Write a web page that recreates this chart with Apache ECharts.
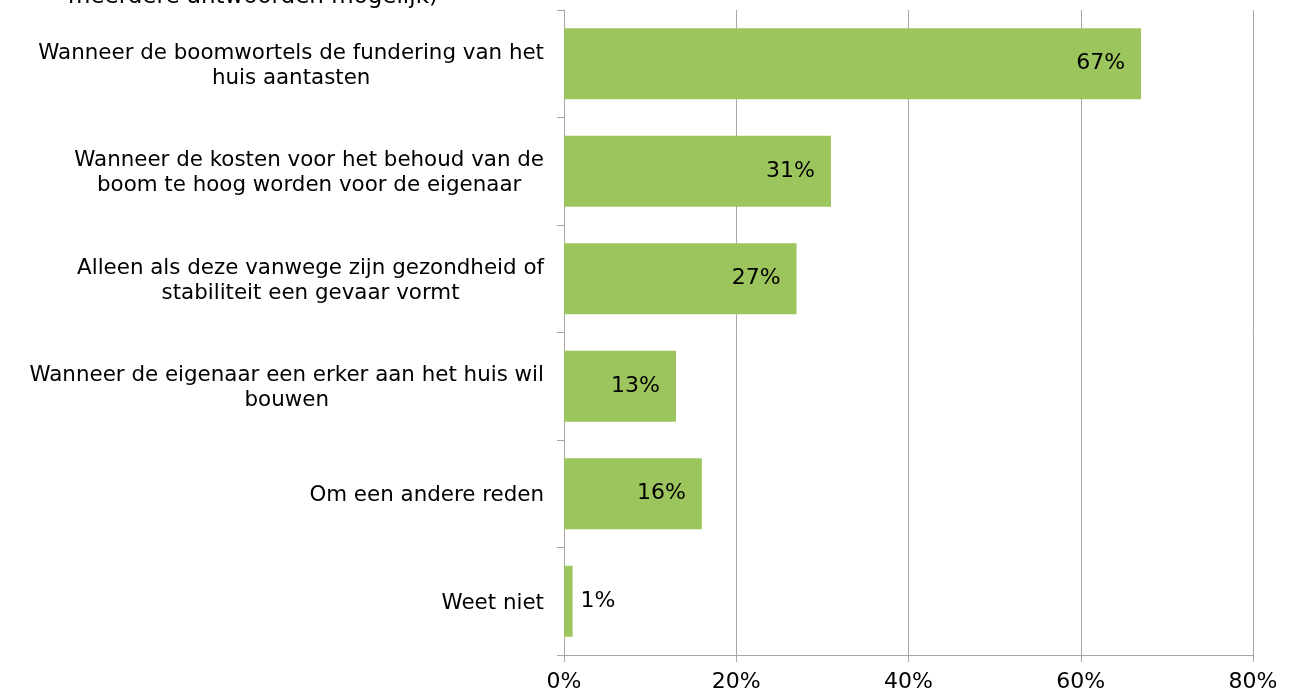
<!DOCTYPE html>
<html>
<head>
<meta charset="utf-8">
<script src="https://cdn.jsdelivr.net/npm/echarts@6/dist/echarts.min.js"></script>
<style>
  html, body { margin: 0; padding: 0; background: #fff; }
  #chart { width: 1306px; height: 694px; }
</style>
</head>
<body>
<div id="chart"></div>
<script>
  // redenen om een boom te kappen (meerdere antwoorden mogelijk)
  const categories = [
    'Wanneer de boomwortels de fundering van het\nhuis aantasten',
    'Wanneer de kosten voor het behoud van de\nboom te hoog worden voor de eigenaar',
    'Alleen als deze vanwege zijn gezondheid of\nstabiliteit een gevaar vormt',
    'Wanneer de eigenaar een erker aan het huis wil\nbouwen',
    'Om een andere reden',
    'Weet niet'
  ]
  const values = [67, 31, 27, 13, 16, 1]
  const xTicks = [0, 20, 40, 60, 80]
  const titleTail = 'meerdere antwoorden mogelijk)'

  const FONT = 'DejaVu Sans'
  const GREEN = '#9dc55e'
  const GRAY = '#a6a6a6'

  let chart = echarts.init(document.getElementById('chart'))

  let barData = values.map(v => {
    let item = { value: v }
    if (v < 5) {
      item.label = { position: 'right', distance: 8 }
    }
    return item
  })

  let option = {
    animation: false,
    graphic: [{
      type: 'text',
      left: 68,
      top: -14,
      style: {
        text: titleTail,
        font: '23px "' + FONT + '"',
        fill: '#000'
      }
    }],
    grid: { left: 564, right: 53, top: 10, bottom: 39 },
    xAxis: {
      type: 'value',
      min: xTicks[0],
      max: xTicks[xTicks.length - 1],
      interval: 20,
      axisLine: { show: true, lineStyle: { color: GRAY, width: 1 } },
      axisTick: { show: true, length: 7, lineStyle: { color: GRAY } },
      splitLine: { show: true, lineStyle: { color: GRAY, width: 1 } },
      axisLabel: {
        formatter: '{value}%',
        fontFamily: FONT,
        fontSize: 22,
        color: '#000',
        margin: 16
      }
    },
    yAxis: {
      type: 'category',
      inverse: true,
      data: categories,
      axisLine: { show: true, lineStyle: { color: GRAY, width: 1 } },
      axisTick: { show: true, length: 7, lineStyle: { color: GRAY } },
      axisLabel: {
        margin: 20,
        color: '#000',
        formatter: v => v.split('\n').map(l => '{c|' + l + '}').join('\n'),
        rich: {
          c: { align: 'center', fontFamily: FONT, fontSize: 21.4, lineHeight: 25, color: '#000', padding: [4, 0, 0, 0] }
        }
      }
    },
    series: [{
      type: 'bar',
      data: barData,
      barCategoryGap: '34%',
      itemStyle: { color: GREEN },
      label: {
        show: true,
        position: 'insideRight',
        distance: 16,
        formatter: '{c}%',
        fontFamily: FONT,
        fontSize: 22,
        color: '#000'
      }
    }]
  }
  chart.setOption(option)
</script>
</body>
</html>
